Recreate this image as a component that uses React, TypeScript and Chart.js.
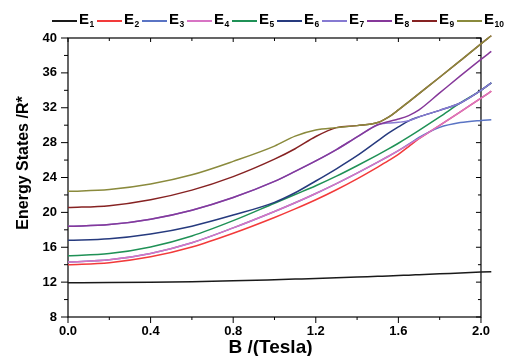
import React, { useEffect, useRef } from "react";
import { Chart, registerables } from "chart.js";

Chart.register(...registerables);

// Magnetic field values (Tesla)
const B = [0, 0.2, 0.4, 0.6, 0.8, 1.0, 1.1, 1.2, 1.3, 1.4, 1.5, 1.55, 1.6, 1.65, 1.7, 1.8, 1.9, 2.0, 2.05];

// Energy states (units of R*)
const E1 = [11.94, 11.95, 11.98, 12.05, 12.15, 12.28, 12.35, 12.42, 12.5, 12.58, 12.67, 12.71, 12.76, 12.8, 12.85, 12.95, 13.05, 13.15, 13.2];
const E2 = [14.0, 14.23, 14.9, 16.03, 17.61, 19.42, 20.4, 21.45, 22.6, 23.85, 25.2, 25.9, 26.65, 27.55, 28.45, 29.98, 31.53, 33.1, 33.9];
const E3 = [14.31, 14.56, 15.29, 16.52, 18.22, 20.1, 21.1, 22.17, 23.3, 24.5, 25.76, 26.41, 27.08, 27.82, 28.6, 29.75, 30.3, 30.55, 30.63];
const E4 = [14.31, 14.56, 15.29, 16.52, 18.22, 20.1, 21.1, 22.17, 23.3, 24.5, 25.76, 26.41, 27.08, 27.77, 28.48, 29.98, 31.53, 33.1, 33.9];
const E5 = [15.03, 15.28, 16.04, 17.3, 19.05, 21.05, 22.05, 23.05, 24.15, 25.35, 26.6, 27.25, 27.93, 28.65, 29.4, 30.95, 32.55, 34.0, 34.85];
const E6 = [16.79, 16.97, 17.52, 18.42, 19.69, 21.15, 22.25, 23.6, 25.0, 26.5, 28.2, 29.05, 29.8, 30.5, 30.95, 31.7, 32.55, 34.0, 34.85];
const E7 = [18.4, 18.6, 19.22, 20.25, 21.7, 23.55, 24.7, 25.9, 27.2, 28.65, 30.05, 30.25, 30.33, 30.5, 30.95, 31.7, 32.55, 34.0, 34.85];
const E8 = [18.4, 18.6, 19.22, 20.25, 21.7, 23.55, 24.7, 25.9, 27.2, 28.65, 30.05, 30.4, 30.7, 31.1, 31.75, 33.7, 35.65, 37.55, 38.46];
const E9 = [20.55, 20.77, 21.45, 22.55, 24.1, 26.1, 27.3, 28.7, 29.72, 29.95, 30.3, 30.9, 31.75, 32.68, 33.62, 35.5, 37.4, 39.33, 40.26];
const E10 = [22.41, 22.62, 23.25, 24.31, 25.85, 27.6, 28.75, 29.45, 29.72, 29.95, 30.3, 30.9, 31.75, 32.68, 33.62, 35.5, 37.4, 39.33, 40.26];

const SERIES = [E1, E2, E3, E4, E5, E6, E7, E8, E9, E10];
const SUBS = ["1", "2", "3", "4", "5", "6", "7", "8", "9", "10"];
const COLORS = [
  "#1a1a1a",
  "#f23a3a",
  "#5a74c4",
  "#d874c4",
  "#1f9156",
  "#263a7e",
  "#867ad2",
  "#86389a",
  "#862222",
  "#8a8a3c",
];

const Y_MIN = 8;
const Y_MAX = 40;
const Y_STEP = 4;
const X_MIN = 0;
const X_AXIS_END = 2.0;
const X_DATA_END = 2.05;
const X_TICKS = [0, 0.4, 0.8, 1.2, 1.6, 2.0];
const X_MINOR = [0.2, 0.6, 1.0, 1.4, 1.8];
const X_TITLE = "B /(Tesla)";
const Y_TITLE = "Energy States /R*";

const FONT = '"Liberation Sans", Arial, Helvetica, sans-serif';

const decorPlugin = {
  id: "decor",
  beforeDatasetsDraw(chart: any) {
    const { ctx, chartArea: a, scales } = chart;
    const xs = scales.x;
    const ys = scales.y;
    const left = a.left;
    const right = xs.getPixelForValue(X_AXIS_END);
    ctx.save();
    ctx.strokeStyle = "#000";
    ctx.lineWidth = 1.2;
    ctx.strokeRect(left, a.top, right - left, a.bottom - a.top);
    ctx.lineWidth = 1;
    ctx.beginPath();
    for (let v = Y_MIN; v <= Y_MAX + 1e-9; v += Y_STEP / 2) {
      const py = ys.getPixelForValue(v);
      const major = Math.abs((v - Y_MIN) % Y_STEP) < 1e-6;
      const lo = major ? 7 : 4;
      const li = major ? 5 : 3;
      ctx.moveTo(left - lo, py);
      ctx.lineTo(left, py);
      ctx.moveTo(right - li, py);
      ctx.lineTo(right, py);
    }
    const drawX = (v: number, major: boolean) => {
      const px = xs.getPixelForValue(v);
      const lo = major ? 6 : 3;
      const li = major ? 4 : 3;
      ctx.moveTo(px, a.bottom);
      ctx.lineTo(px, a.bottom + lo);
      ctx.moveTo(px, a.top);
      ctx.lineTo(px, a.top + li);
    };
    X_TICKS.forEach((v) => drawX(v, true));
    X_MINOR.forEach((v) => drawX(v, false));
    ctx.stroke();
    ctx.restore();
  },
  afterDraw(chart: any) {
    const { ctx, chartArea: a, scales } = chart;
    const right = scales.x.getPixelForValue(X_AXIS_END);
    ctx.save();
    ctx.fillStyle = "#000";
    ctx.font = `bold 19px ${FONT}`;
    ctx.textAlign = "center";
    ctx.textBaseline = "alphabetic";
    ctx.fillText(X_TITLE, (a.left + right) / 2 - 4, 353);
    ctx.translate(28, 163);
    ctx.rotate(-Math.PI / 2);
    ctx.font = `bold 16px ${FONT}`;
    ctx.fillText(Y_TITLE, 0, 0);
    ctx.restore();
  },
};

export default function App() {
  const canvasRef = useRef<HTMLCanvasElement | null>(null);

  useEffect(() => {
    const canvas = canvasRef.current;
    if (!canvas) return;
    const datasets = SERIES.map((arr, i) => ({
      label: "E" + SUBS[i],
      data: B.map((b, j) => ({ x: b, y: arr[j] })),
      borderColor: COLORS[i],
      backgroundColor: COLORS[i],
      borderWidth: 1.5,
      pointRadius: 0,
      cubicInterpolationMode: "monotone" as const,
      clip: false as const,
      order: SERIES.length - i,
    }));
    const chart = new Chart(canvas, {
      type: "line",
      data: { datasets },
      options: {
        animation: false,
        responsive: false,
        devicePixelRatio: 1,
        layout: { padding: { left: 0, top: 38, right: 14.7, bottom: 0 } },
        plugins: { legend: { display: false }, tooltip: { enabled: false } },
        scales: {
          x: {
            type: "linear",
            min: X_MIN,
            max: X_DATA_END,
            grid: { display: false, drawTicks: false },
            border: { display: false },
            afterBuildTicks: (s: any) => {
              s.ticks = X_TICKS.map((v) => ({ value: v }));
            },
            ticks: {
              maxRotation: 0,
              autoSkip: false,
              padding: 7,
              color: "#000",
              font: { family: FONT, size: 13, weight: "bold" },
              callback: (v: any) => Number(v).toFixed(1),
            },
            afterFit: (s: any) => {
              s.height = 39;
            },
          },
          y: {
            type: "linear",
            min: Y_MIN,
            max: Y_MAX,
            grid: { display: false, drawTicks: false },
            border: { display: false },
            ticks: {
              stepSize: Y_STEP,
              padding: 11,
              color: "#000",
              font: { family: FONT, size: 13, weight: "bold" },
            },
            afterFit: (s: any) => {
              s.width = 68;
            },
          },
        },
      },
      plugins: [decorPlugin],
    });
    return () => chart.destroy();
  }, []);

  return (
    <div style={{ position: "fixed", left: 0, top: 0, width: 506, height: 356, background: "#fff" }}>
      <canvas ref={canvasRef} width={506} height={356} style={{ position: "absolute", left: 0, top: 0, width: 506, height: 356 }} />
      <div style={{ position: "absolute", left: 52, top: 0, height: 32, width: 454, fontFamily: FONT }}>
        {SUBS.map((s, i) => (
          <div key={s} style={{ position: "absolute", left: i * 45, top: 0, width: 45, height: 32 }}>
            <div style={{ position: "absolute", left: 0, top: 20, width: 25, height: 2, background: COLORS[i] }} />
            <div
              style={{
                position: "absolute",
                left: 27,
                top: 11,
                fontSize: 15,
                lineHeight: "15px",
                fontWeight: "bold",
                color: "#000",
                whiteSpace: "nowrap",
              }}
            >
              E
              <span style={{ fontSize: 8.5, position: "relative", top: 3, marginLeft: 0.5 }}>{s}</span>
            </div>
          </div>
        ))}
      </div>
    </div>
  );
}
